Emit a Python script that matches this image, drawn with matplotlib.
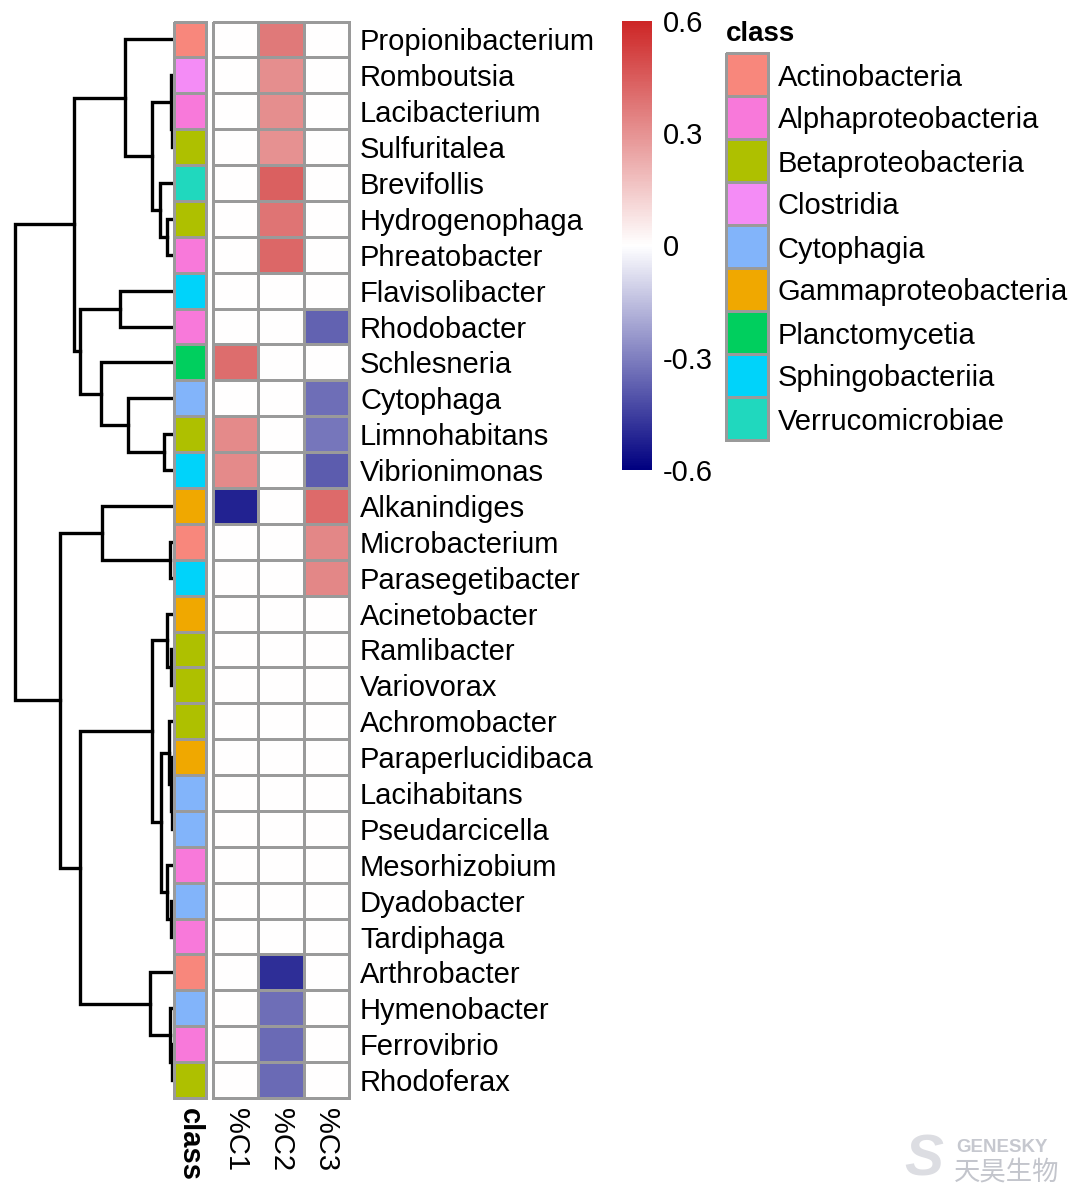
import numpy as np
import matplotlib
matplotlib.use('Agg')
import matplotlib.pyplot as plt
from matplotlib.colors import LinearSegmentedColormap, ListedColormap

plt.rcParams['font.family'] = ['Liberation Sans', 'DejaVu Sans']

# row labels, top to bottom (dendrogram order)
genera = ['Propionibacterium', 'Romboutsia', 'Lacibacterium', 'Sulfuritalea',
          'Brevifollis', 'Hydrogenophaga', 'Phreatobacter', 'Flavisolibacter',
          'Rhodobacter', 'Schlesneria', 'Cytophaga', 'Limnohabitans',
          'Vibrionimonas', 'Alkanindiges', 'Microbacterium', 'Parasegetibacter',
          'Acinetobacter', 'Ramlibacter', 'Variovorax', 'Achromobacter',
          'Paraperlucidibaca', 'Lacihabitans', 'Pseudarcicella', 'Mesorhizobium',
          'Dyadobacter', 'Tardiphaga', 'Arthrobacter', 'Hymenobacter',
          'Ferrovibrio', 'Rhodoferax']

class_names = ['Actinobacteria', 'Alphaproteobacteria', 'Betaproteobacteria',
               'Clostridia', 'Cytophagia', 'Gammaproteobacteria',
               'Planctomycetia', 'Sphingobacteriia', 'Verrucomicrobiae']
class_colors = ['#F8877C', '#F879DA', '#AEC000', '#F48CF6', '#82B4FA',
                '#F0A800', '#00CF5E', '#00D3FA', '#20D8BE']

row_class = ['Actinobacteria', 'Clostridia', 'Alphaproteobacteria', 'Betaproteobacteria',
             'Verrucomicrobiae', 'Betaproteobacteria', 'Alphaproteobacteria', 'Sphingobacteriia',
             'Alphaproteobacteria', 'Planctomycetia', 'Cytophagia', 'Betaproteobacteria',
             'Sphingobacteriia', 'Gammaproteobacteria', 'Actinobacteria', 'Sphingobacteriia',
             'Gammaproteobacteria', 'Betaproteobacteria', 'Betaproteobacteria', 'Betaproteobacteria',
             'Gammaproteobacteria', 'Cytophagia', 'Cytophagia', 'Alphaproteobacteria',
             'Cytophagia', 'Alphaproteobacteria', 'Actinobacteria', 'Cytophagia',
             'Alphaproteobacteria', 'Betaproteobacteria']

samples = ['%C1', '%C2', '%C3']
c1 = [0, 0, 0, 0, 0, 0, 0, 0, 0, 0.40, 0, 0.32, 0.32, -0.52, 0,
      0, 0, 0, 0, 0, 0, 0, 0, 0, 0, 0, 0, 0, 0, 0]
c2 = [0.37, 0.31, 0.31, 0.30, 0.44, 0.38, 0.42, 0, 0, 0, 0, 0, 0, 0, 0,
      0, 0, 0, 0, 0, 0, 0, 0, 0, 0, 0, -0.49, -0.34, -0.35, -0.35]
c3 = [0, 0, 0, 0, 0, 0, 0, 0, -0.37, 0, -0.34, -0.32, -0.38, 0.41, 0.33,
      0.33, 0, 0, 0, 0, 0, 0, 0, 0, 0, 0, 0, 0, 0, 0]

# row dendrogram: (left, right, merge height), leaves are row indices
upper = ((0, ((1, (2, 3, 1), 2), (4, (5, 6, 6), 13), 21), 48),
         ((7, 8, 53), (9, (10, (11, 12, 9), 45), 72), 93), 99)
mid = ((16, (17, 18, 2), 6),
       ((19, (20, (21, 22, 1), 2), 4), (23, (24, 25, 2), 6), 12), 21)
lower = ((13, (14, 15, 3), 71),
         (mid, (26, (27, (28, 29, 1), 3), 23), 93), 113)
tree = (upper, lower, 158)

W, H = 1080, 1192
fig = plt.figure(figsize=(W / 100, H / 100), dpi=100)


def box(x0, y0, x1, y1):
    return [x0 / W, 1 - y1 / H, (x1 - x0) / W, (y1 - y0) / H]


def draw(node, ax):
    if isinstance(node, int):
        return node + 0.5, 0
    left, right, h = node
    y1, h1 = draw(left, ax)
    y2, h2 = draw(right, ax)
    ax.plot([h1, h, h, h2], [y1, y1, y2, y2], color='black', lw=2.4,
            clip_on=False, solid_joinstyle='miter')
    return (y1 + y2) / 2, h


n = len(genera)
top, bottom = 21.5, 1098
fs = 21
grid_col = '#9a9a9a'

# dendrogram
ax_d = fig.add_axes(box(15, top, 173, bottom))
draw(tree, ax_d)
ax_d.set_xlim(158, 0)
ax_d.set_ylim(n, 0)
ax_d.axis('off')

# class annotation column
cls_idx = np.array([class_names.index(c) for c in row_class]).reshape(-1, 1)
ax_c = fig.add_axes(box(174, top, 206, bottom))
m = ax_c.pcolormesh(np.arange(2), np.arange(n + 1), cls_idx, cmap=ListedColormap(class_colors),
                    vmin=-0.5, vmax=len(class_names) - 0.5, edgecolors=grid_col, linewidth=1.8)
m.set_clip_on(False)
ax_c.set_xlim(0, 1)
ax_c.set_ylim(n, 0)
for s in ax_c.spines.values():
    s.set_visible(False)
ax_c.set_yticks([])
ax_c.set_xticks([0.5])
ax_c.set_xticklabels(['class'], rotation=-90, fontsize=fs, fontweight='bold', va='top')
ax_c.tick_params(axis='x', length=0, pad=7)

# heatmap
cmap = LinearSegmentedColormap.from_list('nwf', ['navy', 'white', '#CD2626'])
mat = np.column_stack([c1, c2, c3])
ax_h = fig.add_axes(box(213, top, 349, bottom))
hm = ax_h.pcolormesh(np.arange(4), np.arange(n + 1), mat, cmap=cmap, vmin=-0.6, vmax=0.6,
                     edgecolors=grid_col, linewidth=1.8)
hm.set_clip_on(False)
ax_h.set_xlim(0, 3)
ax_h.set_ylim(n, 0)
for s in ax_h.spines.values():
    s.set_visible(False)
ax_h.yaxis.tick_right()
ax_h.set_yticks(np.arange(n) + 0.5)
ax_h.set_yticklabels(genera, fontsize=fs)
ax_h.set_xticks(np.arange(3) + 0.5)
ax_h.set_xticklabels(samples, rotation=-90, fontsize=fs, va='top')
ax_h.tick_params(axis='y', length=0, pad=8)
ax_h.tick_params(axis='x', length=0, pad=7)

# colour bar
cax = fig.add_axes(box(622, 21, 652, 470))
cb = fig.colorbar(hm, cax=cax, ticks=[0.6, 0.3, 0, -0.3, -0.6])
cb.outline.set_visible(False)
cb.ax.set_yticklabels(['0.6', '0.3', '0', '-0.3', '-0.6'])
cax.tick_params(length=0, pad=8, labelsize=fs)

# class legend
ax_l = fig.add_axes(box(726, 53, 768, 440))
leg = ax_l.pcolormesh(np.arange(2), np.arange(len(class_names) + 1),
                      np.arange(len(class_names)).reshape(-1, 1),
                      cmap=ListedColormap(class_colors), vmin=-0.5, vmax=len(class_names) - 0.5,
                      edgecolors=grid_col, linewidth=1.8)
leg.set_clip_on(False)
ax_l.set_xlim(0, 1)
ax_l.set_ylim(len(class_names), 0)
for s in ax_l.spines.values():
    s.set_visible(False)
ax_l.set_xticks([])
ax_l.yaxis.tick_right()
ax_l.set_yticks(np.arange(len(class_names)) + 0.5)
ax_l.set_yticklabels(class_names, fontsize=fs)
ax_l.tick_params(axis='y', length=0, pad=7)
fig.text(726 / W, 1 - 34 / H, 'class', fontsize=fs - 1, fontweight='bold', va='center', ha='left')

# watermark
fig.text(924 / W, 1 - 1160 / H, 'S', fontsize=42, fontweight='bold', color='#dcdde2',
         va='center', ha='center', style='italic')
fig.text(956 / W, 1 - 1147 / H, 'GENESKY', fontsize=13.5, fontweight='bold', color='#c6c8cf',
         va='center', ha='left')
fig.text(954 / W, 1 - 1172 / H, '天昊生物', fontsize=19, color='#c3c5cc',
         va='center', ha='left', family=['Noto Sans CJK SC', 'DejaVu Sans'])

fig.savefig('out.png', dpi=100)
